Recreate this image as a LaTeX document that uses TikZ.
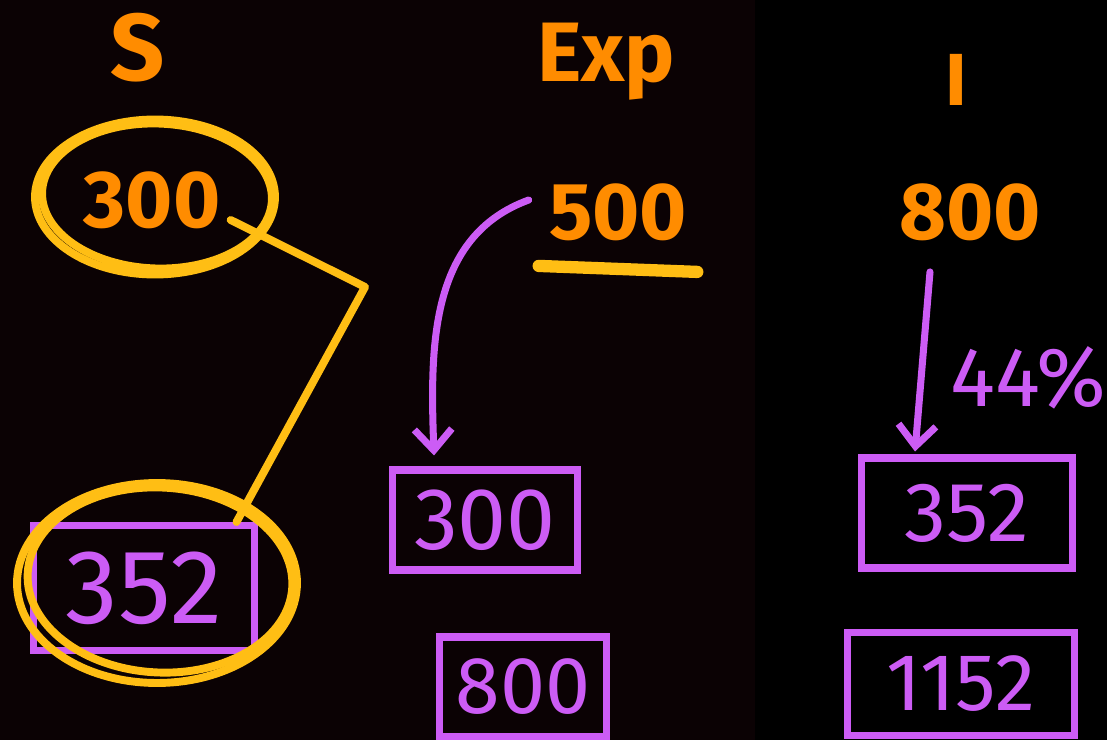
\documentclass[tikz,border=0pt]{standalone}
\usepackage{xcolor}
\usepackage{fontspec}
\setmainfont{Fira Sans}
\usepackage{tikz}
\usetikzlibrary{arrows.meta, shapes.geometric, positioning}

\definecolor{bgleft}{RGB}{11,2,4}
\definecolor{inkorange}{RGB}{255,140,0}
\definecolor{inkgold}{RGB}{255,190,20}
\definecolor{inkviolet}{RGB}{204,92,245}

\newcommand{\fsz}[1]{\fontsize{#1}{#1}\selectfont}

\tikzset{
	orangetxt/.style={text=inkorange, inner sep=0pt},
	violettxt/.style={text=inkviolet, inner sep=0pt},
	ring/.style={ellipse, draw=inkgold, line width=4.5pt, inner sep=0pt},
	goldline/.style={draw=inkgold, line width=4.5pt, line cap=round, line join=round},
	cashbox/.style={draw=inkviolet, line width=4pt, text=inkviolet, inner sep=0pt},
	violetarrow/.style={draw=inkviolet, line width=4pt, line cap=round, line join=round,
		-{Straight Barb[length=0.42cm, width=0.75cm]}},
}

\begin{document}
\begin{tikzpicture}[x=0.02cm, y=-0.02cm]
		\useasboundingbox (0,0) rectangle (1107,740);
		\fill [bgleft] (0,0) rectangle (755,740);
		\fill [black] (755,0) rectangle (1107,740);
		
		% column heads
		\node [orangetxt, font=\fsz{54}\bfseries] (hsave) at (138,48) {S};
		\node [orangetxt, font=\fsz{48}\bfseries] (hexp) at (606,62) {Exp};
		\node [orangetxt, font=\fsz{42}\bfseries] (hinc) at (956,80) {I};
		
		% first values
		\node [orangetxt, font=\fsz{46}\bfseries] (t300) at (152,200) {300};
		\node [orangetxt, font=\fsz{46}\bfseries] (o500) at (618,212) {500};
		\node [orangetxt, font=\fsz{46}\bfseries] (o800) at (970,212) {800};
		
		\draw [draw=inkgold, line width=7pt, line cap=round] ([xshift=-0.2cm, yshift=-0.5cm]o500.south west) -- ([xshift=0.2cm, yshift=-0.62cm]o500.south east);
		
		% boxes
		\node [cashbox, minimum width=4.44cm, minimum height=2.5cm, font=\fsz{60}] (lbox) at (144,588) {352};
		\node [cashbox, minimum width=3.7cm, minimum height=2cm, font=\fsz{50}] (ebox300) at (485,520) {300};
		\node [cashbox, minimum width=3.34cm, minimum height=2cm, font=\fsz{46}] (ebox800) at (523,687) {800};
		\node [cashbox, minimum width=4.22cm, minimum height=2.2cm, font=\fsz{48}] (ibox352) at (967,513) {352};
		\node [cashbox, minimum width=4.56cm, minimum height=2.06cm, font=\fsz{46}] (ibox1152) at (961,684) {1152};
		
		% rings
		\node [ring, minimum width=4.8cm, minimum height=3.1cm] (topring) at (155,197) {};
		\node [ring, rotate=-2, minimum width=4.6cm, minimum height=2.9cm] (topring2) at (157,196) {};
		\node [ring, minimum width=5.6cm, minimum height=4cm] (lowring) at (157,583) {};
		\node [ring, rotate=-3, minimum width=5.3cm, minimum height=3.7cm] (lowring2) at (160,580) {};
		
		\coordinate (kink) at (365,287);
		\draw [goldline] ([xshift=0.2cm, yshift=-0.4cm]t300.east) -- (kink) -- ([xshift=-0.44cm]lbox.north east);
		
		% arrows
		\draw [violetarrow] ([xshift=-0.4cm, yshift=0.24cm]o500.west) to [out=200, in=92] ([xshift=0.9cm, yshift=0.22cm]ebox300.north west);
		\draw [violetarrow] ([xshift=-0.8cm, yshift=-0.62cm]o800.south) -- ([xshift=-1.04cm, yshift=0.06cm]ibox352.north);
			\node [violettxt, anchor=west, font=\fsz{48}] (rate) at (950,378) {44\%};
	\end{tikzpicture}
\end{document}
